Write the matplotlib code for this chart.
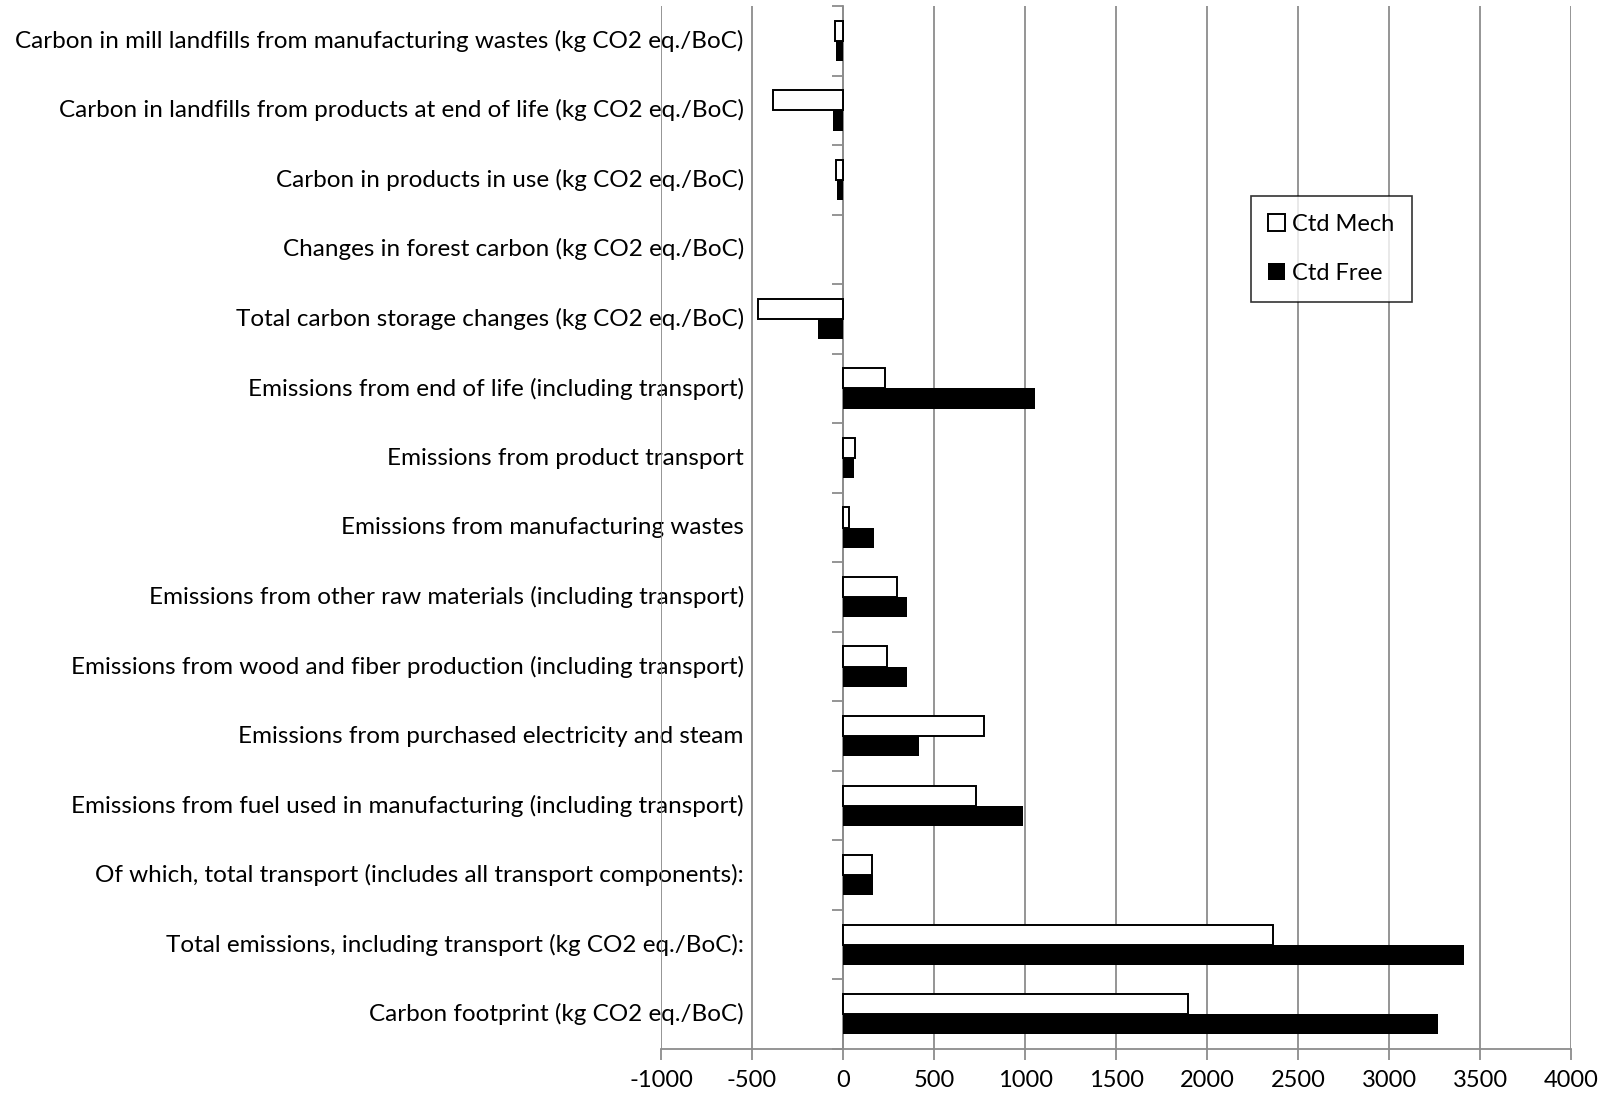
import matplotlib.pyplot as plt
import numpy as np

plt.rcParams['font.family'] = ['Lato', 'DejaVu Sans']

# categories, top to bottom
categories = [
    "Carbon in mill landfills from manufacturing wastes (kg CO2 eq./BoC)",
    "Carbon in landfills from products at end of life (kg CO2 eq./BoC)",
    "Carbon in products in use (kg CO2 eq./BoC)",
    "Changes in forest carbon (kg CO2 eq./BoC)",
    "Total carbon storage changes (kg CO2 eq./BoC)",
    "Emissions from end of life (including transport)",
    "Emissions from product transport",
    "Emissions from manufacturing wastes",
    "Emissions from other raw materials (including transport)",
    "Emissions from wood and fiber production (including transport)",
    "Emissions from purchased electricity and steam",
    "Emissions from fuel used in manufacturing (including transport)",
    "Of which, total transport (includes all transport components):",
    "Total emissions, including transport (kg CO2 eq./BoC):",
    "Carbon footprint (kg CO2 eq./BoC)",
]
ctd_mech = [-45, -385, -38, 0, -469, 228, 64, 33, 297, 243, 775, 732, 160, 2364, 1896]
ctd_free = [-40, -57, -35, 0, -137, 1057, 62, 172, 352, 353, 418, 988, 163, 3410, 3270]
xticks = np.arange(-1000, 4001, 500)

fig = plt.figure(figsize=(16.13, 10.98), dpi=100)
ax = fig.add_axes([0.4098, 0.0446, 0.974 - 0.4098, 0.9945 - 0.0446])

n = len(categories)
ypos = np.arange(n)[::-1]
h = 0.29
grid_c = "#8c8c8c"

# no outline on empty bars
mech_edges = ['black' if v != 0 else 'none' for v in ctd_mech]
ax.barh(ypos, ctd_mech, height=h, align='edge', color='white',
        edgecolor=mech_edges, linewidth=1.4, label='Ctd Mech', zorder=3)
ax.barh(ypos - h, ctd_free, height=h, align='edge', color='black',
        edgecolor='black', linewidth=0, label='Ctd Free', zorder=3)

ax.set_xlim(-1000, 4000)
ax.set_ylim(-0.5, n - 0.5)
ax.set_xticks(xticks)
ax.set_xticklabels([str(v) for v in xticks], fontsize=17)
ax.xaxis.grid(True, color=grid_c, linewidth=1.3, zorder=0)
ax.tick_params(axis='x', length=8, width=1.3, color=grid_c, pad=7)

# vertical axis sits at zero, ticks on the category boundaries
ax.spines['left'].set_position(('data', 0))
ax.spines['left'].set_color(grid_c)
ax.spines['left'].set_linewidth(1.3)
ax.spines['left'].set_zorder(2)
ax.spines['bottom'].set_color(grid_c)
ax.spines['bottom'].set_linewidth(1.3)
ax.spines['top'].set_visible(False)
ax.spines['right'].set_visible(False)
ax.set_yticks(np.arange(-0.5, n, 1.0))
ax.set_yticklabels([])
ax.tick_params(axis='y', length=8, width=1.3, color=grid_c)

for y, lab in zip(ypos, categories):
    ax.text(-545, y, lab, ha='right', va='center', fontsize=17.5, zorder=1)

leg = ax.legend(loc='upper left', bbox_to_anchor=(0.648, 0.818), fontsize=17,
                frameon=True, fancybox=False, edgecolor='black',
                labelspacing=1.2, handlelength=0.7, handleheight=0.7,
                handletextpad=0.3, borderpad=0.75, borderaxespad=0)
leg.get_frame().set_linewidth(1.2)
leg.set_zorder(5)

fig.savefig("out.png", dpi=100)
